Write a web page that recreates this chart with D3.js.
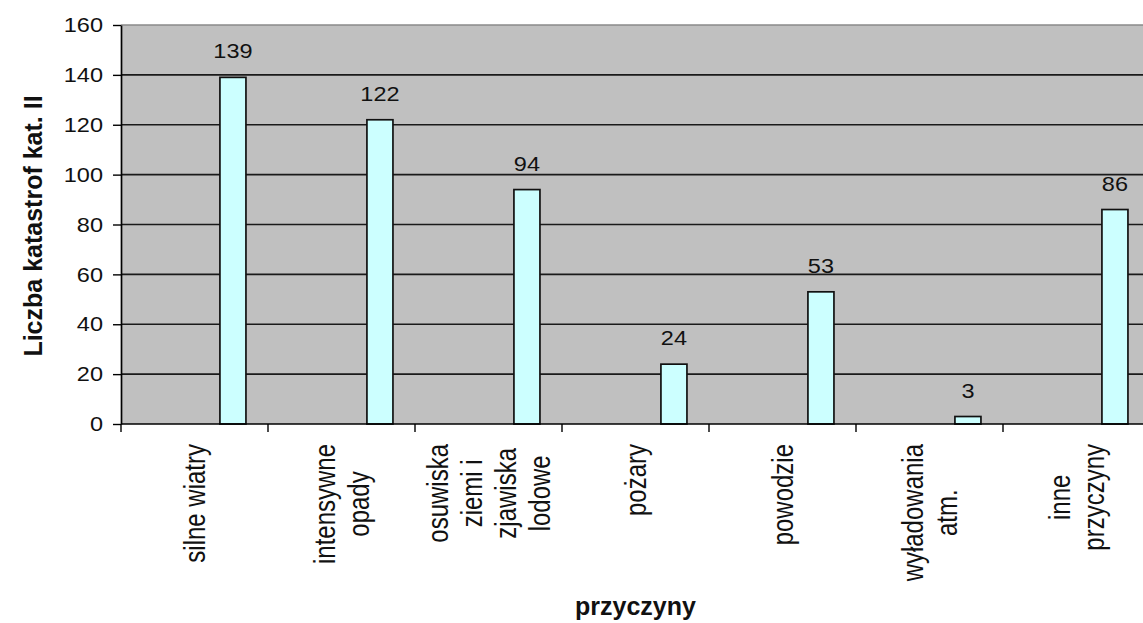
<!DOCTYPE html>
<html>
<head>
<meta charset="utf-8">
<script src="https://cdn.jsdelivr.net/npm/d3@7/dist/d3.min.js"></script>
<style>
  html, body { margin: 0; padding: 0; background: #fff; }
  svg { display: block; font-family: Arial, "Liberation Sans", sans-serif; }
</style>
</head>
<body>
<svg id="chart" width="1143" height="623"></svg>
<script>
// Przyczyny katastrof kategorii II
const categories = [
  ["silne wiatry"],
  ["intensywne", "opady"],
  ["osuwiska", "ziemi i", "zjawiska", "lodowe"],
  ["pożary"],
  ["powodzie"],
  ["wyładowania", "atm."],
  ["inne", "przyczyny"]
];
const values = [139, 122, 94, 24, 53, 3, 86];
const yTicks = [0, 20, 40, 60, 80, 100, 120, 140, 160];
const yTitle = "Liczba katastrof kat. II";
const xTitle = "przyczyny";

const svg = d3.select("#chart");
const plot = { left: 121, right: 1150, top: 25, bottom: 424 };
const numStretch = 1.12;   // horizontal widening of numeric labels
const catStretch = 1.2;    // horizontal widening of rotated category labels

const keys = categories.map((c, i) => i);
const x = d3.scaleBand().domain(keys).range([plot.left, plot.right]).padding(0);
const y = d3.scaleLinear().domain([0, 160]).range([plot.bottom, plot.top]);
const bw = x.bandwidth();

// plot area
svg.append("rect")
  .attr("x", plot.left).attr("y", plot.top)
  .attr("width", plot.right - plot.left).attr("height", plot.bottom - plot.top)
  .attr("fill", "#c0c0c0");

// gridlines
svg.append("g").selectAll("line")
  .data(yTicks.filter(t => t > 0))
  .join("line")
  .attr("x1", plot.left).attr("x2", plot.right)
  .attr("y1", d => y(d)).attr("y2", d => y(d))
  .attr("stroke", d => d === 160 ? "#8a8a8a" : "#1a1a1a")
  .attr("stroke-width", 1.7);

// y axis
const yAxis = d3.axisLeft(y).tickValues(yTicks).tickSize(8).tickPadding(10).tickSizeOuter(0);
const gy = svg.append("g").attr("transform", `translate(${plot.left},0)`).call(yAxis);
gy.select(".domain").attr("stroke", "#000").attr("stroke-width", 1.7);
gy.selectAll(".tick line").attr("stroke", "#000").attr("stroke-width", 1.4);
gy.selectAll(".tick text")
  .attr("font-size", 21).attr("fill", "#111")
  .attr("font-family", "Arial, 'Liberation Sans', sans-serif")
  .attr("x", -18 / numStretch)
  .attr("transform", `scale(${numStretch},1)`);

// bars
svg.append("g").selectAll("rect")
  .data(values)
  .join("rect")
  .attr("x", (d, i) => x(i) + bw * 0.673)
  .attr("width", bw * 0.177)
  .attr("y", d => y(d))
  .attr("height", d => y(0) - y(d))
  .attr("fill", "#ccffff")
  .attr("stroke", "#111")
  .attr("stroke-width", 1.7);

// value labels
svg.append("g").selectAll("text")
  .data(values)
  .join("text")
  .attr("transform", (d, i) => `translate(${x(i) + bw * 0.7615},${y(d) - 19}) scale(${numStretch},1)`)
  .attr("text-anchor", "middle")
  .attr("font-size", 21)
  .attr("fill", "#111")
  .text(d => d);

// x axis line and band ticks
const gx = svg.append("g");
gx.append("line")
  .attr("x1", plot.left).attr("x2", plot.right)
  .attr("y1", plot.bottom).attr("y2", plot.bottom)
  .attr("stroke", "#000").attr("stroke-width", 1.7);
const bounds = keys.map(k => x(k)).concat([plot.right]);
gx.selectAll("line.tk")
  .data(bounds)
  .join("line")
  .attr("class", "tk")
  .attr("x1", d => d).attr("x2", d => d)
  .attr("y1", plot.bottom).attr("y2", plot.bottom + 8)
  .attr("stroke", "#000").attr("stroke-width", 1.4);

// rotated category labels
const labelTop = 444;
const lineGap = 34 / catStretch;
categories.forEach((lines, i) => {
  const g = svg.append("g")
    .attr("transform", `translate(${x(i) + bw / 2},${labelTop}) scale(${catStretch},1) rotate(-90)`);
  const texts = lines.map((ln, j) => g.append("text")
    .attr("text-anchor", "middle")
    .attr("y", (j - (lines.length - 1) / 2) * lineGap)
    .attr("dy", "0.35em")
    .attr("font-size", 24)
    .attr("fill", "#111")
    .text(ln));
  const maxLen = d3.max(texts, t => t.node().getComputedTextLength());
  texts.forEach(t => t.attr("x", -maxLen / 2));
});

// axis titles
svg.append("text")
  .attr("transform", "translate(42,226) rotate(-90)")
  .attr("text-anchor", "middle")
  .attr("font-size", 25)
  .attr("font-weight", "bold")
  .attr("fill", "#111")
  .text(yTitle);

svg.append("text")
  .attr("x", (plot.left + plot.right) / 2)
  .attr("y", 615)
  .attr("text-anchor", "middle")
  .attr("font-size", 25)
  .attr("font-weight", "bold")
  .attr("fill", "#111")
  .text(xTitle);
</script>
</body>
</html>
